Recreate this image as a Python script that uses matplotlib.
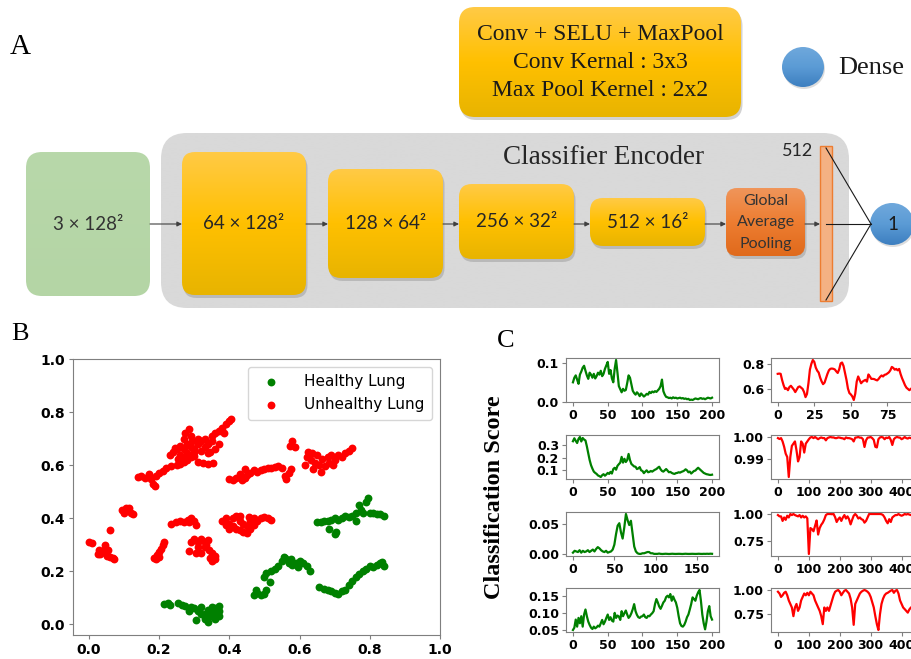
import matplotlib
matplotlib.use('Agg')
import matplotlib.pyplot as plt
import numpy as np
from matplotlib.patches import FancyBboxPatch, Ellipse, Rectangle
from matplotlib.colors import LinearSegmentedColormap

# ---------------- panel B : 2-D embedding ----------------
healthy_pts = [
    (0.215, 0.075), (0.225, 0.08), (0.232, 0.072), (0.255, 0.08), (0.265, 0.072), (0.275, 0.07),
    (0.285, 0.05), (0.29, 0.066), (0.30, 0.06), (0.31, 0.05), (0.305, 0.015), (0.32, 0.04),
    (0.32, 0.065), (0.33, 0.04), (0.33, 0.02), (0.34, 0.01), (0.345, 0.03), (0.35, 0.05),
    (0.35, 0.065), (0.355, 0.035), (0.36, 0.06), (0.36, 0.02), (0.365, 0.045), (0.37, 0.05),
    (0.37, 0.07), (0.372, 0.03), (0.34, 0.055),
    (0.47, 0.11), (0.475, 0.13), (0.48, 0.12), (0.49, 0.11), (0.50, 0.115), (0.505, 0.13),
    (0.50, 0.18), (0.505, 0.195), (0.515, 0.16), (0.52, 0.20), (0.53, 0.21), (0.54, 0.22),
    (0.55, 0.24), (0.555, 0.255), (0.56, 0.25), (0.57, 0.23), (0.575, 0.245), (0.58, 0.225),
    (0.59, 0.23), (0.595, 0.215), (0.60, 0.24), (0.61, 0.23), (0.62, 0.22), (0.63, 0.20),
    (0.65, 0.385), (0.66, 0.385), (0.67, 0.39), (0.68, 0.39), (0.69, 0.395), (0.70, 0.40),
    (0.71, 0.395), (0.72, 0.40), (0.73, 0.41), (0.74, 0.405), (0.75, 0.41), (0.76, 0.42),
    (0.76, 0.39), (0.77, 0.45), (0.775, 0.43), (0.78, 0.42), (0.79, 0.46), (0.795, 0.475),
    (0.80, 0.42), (0.81, 0.42), (0.82, 0.415), (0.83, 0.415), (0.84, 0.41), (0.685, 0.36),
    (0.70, 0.34), (0.705, 0.35),
    (0.655, 0.14), (0.67, 0.135), (0.68, 0.13), (0.69, 0.125), (0.70, 0.12), (0.71, 0.115),
    (0.72, 0.125), (0.73, 0.13), (0.74, 0.15), (0.75, 0.165), (0.76, 0.18), (0.77, 0.19),
    (0.78, 0.20), (0.79, 0.21), (0.80, 0.22), (0.81, 0.215), (0.82, 0.225), (0.83, 0.23),
    (0.84, 0.22), (0.835, 0.235),
]
unhealthy_pts = [
    (0.14, 0.555), (0.15, 0.56), (0.16, 0.552), (0.17, 0.565), (0.178, 0.548), (0.183, 0.53),
    (0.188, 0.52), (0.19, 0.56), (0.2, 0.57), (0.21, 0.578), (0.22, 0.588), (0.235, 0.595),
    (0.25, 0.6), (0.26, 0.605), (0.27, 0.612), (0.28, 0.62), (0.29, 0.63), (0.3, 0.635),
    (0.31, 0.612), (0.325, 0.61), (0.34, 0.605), (0.355, 0.61),
    (0.23, 0.64), (0.24, 0.65), (0.25, 0.66), (0.26, 0.672), (0.255, 0.625), (0.26, 0.64),
    (0.27, 0.66), (0.28, 0.68), (0.28, 0.645), (0.29, 0.67), (0.3, 0.66), (0.3, 0.65),
    (0.31, 0.68), (0.31, 0.70), (0.32, 0.69), (0.32, 0.655), (0.33, 0.67), (0.33, 0.70),
    (0.34, 0.68), (0.345, 0.65), (0.35, 0.69), (0.35, 0.71), (0.36, 0.66), (0.36, 0.72),
    (0.37, 0.68), (0.37, 0.73), (0.38, 0.74), (0.385, 0.72), (0.39, 0.755), (0.40, 0.765),
    (0.405, 0.775), (0.27, 0.70), (0.275, 0.72), (0.285, 0.735), (0.29, 0.71), (0.295, 0.69),
    (0.34, 0.645), (0.265, 0.63), (0.245, 0.665),
    (0.40, 0.548), (0.41, 0.545), (0.42, 0.55), (0.435, 0.543), (0.445, 0.55), (0.43, 0.565),
    (0.45, 0.562), (0.46, 0.57), (0.47, 0.58), (0.48, 0.575), (0.49, 0.582), (0.50, 0.586),
    (0.51, 0.59), (0.52, 0.588), (0.53, 0.592), (0.54, 0.596), (0.55, 0.59), (0.445, 0.585),
    (0.56, 0.56), (0.562, 0.548), (0.57, 0.57), (0.575, 0.585), (0.578, 0.69), (0.572, 0.672),
    (0.586, 0.668),
    (0.615, 0.60), (0.62, 0.63), (0.625, 0.65), (0.632, 0.62), (0.638, 0.585), (0.645, 0.61),
    (0.65, 0.64), (0.655, 0.60), (0.66, 0.575), (0.665, 0.625), (0.672, 0.595), (0.68, 0.63),
    (0.685, 0.61), (0.695, 0.60), (0.70, 0.62), (0.71, 0.638), (0.72, 0.63), (0.73, 0.645),
    (0.74, 0.655), (0.75, 0.663), (0.635, 0.645), (0.69, 0.64),
    (0.095, 0.43), (0.10, 0.42), (0.105, 0.44), (0.11, 0.43), (0.115, 0.44), (0.12, 0.42),
    (0.125, 0.415), (0.06, 0.357),
    (0.0, 0.31), (0.01, 0.305), (0.028, 0.28), (0.033, 0.265), (0.04, 0.272), (0.045, 0.285),
    (0.045, 0.30), (0.05, 0.268), (0.052, 0.258), (0.055, 0.28), (0.06, 0.255), (0.068, 0.25),
    (0.072, 0.248), (0.025, 0.265),
    (0.235, 0.38), (0.248, 0.385), (0.26, 0.39), (0.272, 0.385), (0.282, 0.392), (0.292, 0.40),
    (0.30, 0.39), (0.305, 0.375), (0.285, 0.385),
    (0.185, 0.25), (0.193, 0.262), (0.2, 0.272), (0.205, 0.285), (0.21, 0.30), (0.215, 0.312),
    (0.19, 0.245), (0.2, 0.255),
    (0.29, 0.31), (0.30, 0.32), (0.31, 0.31), (0.32, 0.32), (0.33, 0.312), (0.34, 0.318),
    (0.33, 0.29), (0.342, 0.28), (0.35, 0.27), (0.36, 0.258), (0.345, 0.25), (0.35, 0.24),
    (0.32, 0.27), (0.305, 0.27), (0.285, 0.275), (0.335, 0.30), (0.31, 0.29), (0.36, 0.245),
    (0.38, 0.39), (0.39, 0.40), (0.40, 0.38), (0.41, 0.37), (0.42, 0.36), (0.43, 0.355),
    (0.44, 0.35), (0.45, 0.345), (0.40, 0.36), (0.41, 0.40), (0.42, 0.41), (0.43, 0.39),
    (0.44, 0.38), (0.45, 0.37), (0.46, 0.39), (0.47, 0.40), (0.48, 0.39), (0.49, 0.40),
    (0.50, 0.405), (0.51, 0.40), (0.52, 0.395), (0.43, 0.41), (0.46, 0.36), (0.39, 0.375),
    (0.47, 0.375), (0.455, 0.405),
]

# ---------------- panel C : classification scores ----------------
green_step = 2
red_step = 5
score_h1 = [0.050, 0.062, 0.068, 0.057, 0.046, 0.070, 0.078, 0.088, 0.093, 0.080, 0.068, 0.059,
            0.075, 0.070, 0.062, 0.072, 0.060, 0.066, 0.075, 0.070, 0.080, 0.066, 0.072, 0.085,
            0.094, 0.103, 0.072, 0.082, 0.060, 0.050, 0.085, 0.108, 0.075, 0.040, 0.032, 0.024,
            0.033, 0.028, 0.030, 0.048, 0.068, 0.062, 0.045, 0.028, 0.022, 0.018, 0.024, 0.020,
            0.014, 0.021, 0.017, 0.013, 0.016, 0.020, 0.018, 0.025, 0.022, 0.026, 0.024, 0.027,
            0.025, 0.029, 0.033, 0.040, 0.057, 0.027, 0.018, 0.012, 0.011, 0.009, 0.010, 0.008,
            0.011, 0.009, 0.010, 0.008, 0.009, 0.010, 0.008, 0.009, 0.007, 0.008, 0.006, 0.007,
            0.004, 0.005, 0.004, 0.006, 0.008, 0.007, 0.006, 0.008, 0.009, 0.007, 0.008, 0.006,
            0.008, 0.010, 0.009, 0.008, 0.010]
score_h2 = [0.327, 0.350, 0.330, 0.313, 0.345, 0.360, 0.325, 0.352, 0.340, 0.333, 0.287, 0.233,
            0.180, 0.140, 0.113, 0.090, 0.080, 0.072, 0.060, 0.055, 0.048, 0.062, 0.070, 0.058,
            0.068, 0.080, 0.072, 0.088, 0.075, 0.110, 0.120, 0.105, 0.135, 0.148, 0.160, 0.205,
            0.160, 0.190, 0.165, 0.180, 0.228, 0.180, 0.150, 0.140, 0.130, 0.128, 0.110, 0.115,
            0.125, 0.100, 0.095, 0.078, 0.090, 0.100, 0.085, 0.088, 0.095, 0.090, 0.098, 0.105,
            0.110, 0.120, 0.128, 0.108, 0.095, 0.090, 0.100, 0.110, 0.098, 0.085, 0.088, 0.080,
            0.075, 0.072, 0.078, 0.080, 0.085, 0.082, 0.088, 0.092, 0.098, 0.108, 0.100, 0.085,
            0.090, 0.075, 0.085, 0.095, 0.098, 0.110, 0.120, 0.110, 0.100, 0.090, 0.080, 0.075,
            0.070, 0.068, 0.065, 0.064, 0.066]
score_h3 = [0.003, 0.006, 0.005, 0.004, 0.007, 0.003, 0.006, 0.004, 0.005, 0.007, 0.004, 0.006,
            0.008, 0.005, 0.009, 0.012, 0.010, 0.007, 0.005, 0.004, 0.006, 0.003, 0.004, 0.005,
            0.008, 0.016, 0.033, 0.047, 0.051, 0.036, 0.026, 0.044, 0.066, 0.056, 0.048, 0.055,
            0.034, 0.013, 0.005, 0.002, 0.001, 0.001, 0.002, 0.002, 0.003, 0.004, 0.004, 0.002,
            0.002, 0.001, 0.001, 0.001, 0.0015, 0.001, 0.0008, 0.001, 0.0012, 0.001, 0.0008,
            0.001, 0.0012, 0.001, 0.0009, 0.001, 0.0011, 0.001, 0.0008, 0.001, 0.0012, 0.001,
            0.0009, 0.001, 0.0011, 0.001, 0.0009, 0.001, 0.0012, 0.001, 0.0009, 0.0011, 0.001,
            0.0012, 0.001, 0.0013, 0.0011]
score_h4 = [0.050, 0.057, 0.081, 0.060, 0.086, 0.070, 0.091, 0.060, 0.096, 0.111, 0.091, 0.075,
            0.065, 0.057, 0.053, 0.060, 0.055, 0.058, 0.063, 0.060, 0.070, 0.080, 0.067, 0.075,
            0.086, 0.096, 0.080, 0.088, 0.078, 0.075, 0.101, 0.086, 0.093, 0.090, 0.080, 0.106,
            0.091, 0.100, 0.108, 0.096, 0.086, 0.091, 0.100, 0.112, 0.127, 0.106, 0.095, 0.088,
            0.086, 0.090, 0.091, 0.096, 0.088, 0.086, 0.092, 0.091, 0.096, 0.100, 0.106, 0.127,
            0.142, 0.132, 0.120, 0.113, 0.122, 0.132, 0.137, 0.148, 0.152, 0.147, 0.157, 0.137,
            0.150, 0.140, 0.132, 0.116, 0.091, 0.070, 0.062, 0.060, 0.065, 0.075, 0.088, 0.096,
            0.111, 0.127, 0.147, 0.142, 0.137, 0.152, 0.162, 0.169, 0.137, 0.096, 0.070, 0.052,
            0.075, 0.106, 0.121, 0.091, 0.081]
score_u1 = [0.720, 0.722, 0.720, 0.670, 0.630, 0.600, 0.605, 0.590, 0.615, 0.625, 0.610, 0.595,
            0.575, 0.595, 0.615, 0.620, 0.610, 0.600, 0.575, 0.535, 0.560, 0.645, 0.753, 0.800,
            0.830, 0.815, 0.770, 0.745, 0.730, 0.690, 0.660, 0.638, 0.650, 0.685, 0.720, 0.748,
            0.760, 0.762, 0.760, 0.755, 0.740, 0.727, 0.755, 0.803, 0.810, 0.782, 0.727, 0.672,
            0.603, 0.567, 0.556, 0.540, 0.512, 0.562, 0.658, 0.699, 0.672, 0.645, 0.658, 0.666,
            0.672, 0.658, 0.715, 0.699, 0.680, 0.680, 0.678, 0.672, 0.668, 0.680, 0.696, 0.707,
            0.699, 0.712, 0.715, 0.723, 0.732, 0.748, 0.775, 0.767, 0.753, 0.759, 0.748, 0.759,
            0.718, 0.685, 0.658, 0.630, 0.610, 0.600, 0.590, 0.600, 0.610]
score_u2 = [0.9995, 0.9991, 0.9995, 0.998, 0.9956, 0.9925, 0.991, 0.982, 0.991, 0.996, 0.997,
            0.998, 0.994, 0.989, 0.991, 0.998, 0.997, 0.993, 0.997, 0.998, 0.999, 0.9998, 1.0,
            0.9995, 1.0, 0.9995, 0.999, 0.9995, 0.9998, 0.9995, 0.9995, 0.9985, 0.9995, 0.9998,
            1.0, 0.9998, 0.9998, 0.9995, 0.9995, 0.9998, 0.9997, 0.9995, 0.9994, 0.999, 0.9998,
            0.9995, 0.9995, 0.9993, 0.999, 0.998, 0.9997, 0.9998, 1.0, 0.9997, 0.9997, 0.999,
            0.9955, 0.9985, 0.9997, 0.9998, 1.0, 0.9995, 0.9987, 0.9956, 0.9953, 0.999, 0.9998,
            1.0, 0.9998, 0.999, 0.9997, 0.9995, 1.0, 0.9987, 0.9964, 0.999, 0.9997, 1.0, 0.9998,
            0.9997, 0.999, 0.9994, 1.0, 0.9995, 0.9993, 0.9997, 0.9995, 0.9992, 0.9996, 0.9994,
            0.9995]
score_u3 = [0.990, 0.978, 0.978, 0.936, 0.968, 0.946, 0.984, 0.968, 1.0, 0.990, 1.0, 0.990,
            0.984, 0.978, 0.990, 0.968, 0.984, 0.968, 0.978, 0.960, 0.630, 0.870, 0.860, 0.840,
            0.890, 0.940, 0.810, 0.870, 0.900, 0.920, 0.950, 0.990, 1.0, 1.0, 1.0, 0.998, 1.0,
            0.970, 0.926, 0.952, 0.968, 0.936, 0.968, 0.990, 0.958, 0.978, 0.952, 0.904, 0.946,
            0.984, 1.0, 0.984, 0.958, 0.968, 0.952, 0.946, 0.920, 0.936, 0.968, 1.0, 1.0, 1.0,
            1.0, 1.0, 1.0, 1.0, 1.0, 0.998, 0.990, 0.968, 0.936, 0.914, 0.952, 0.926, 0.968,
            0.980, 0.990, 0.990, 1.0, 0.990, 0.984, 0.990, 1.0, 0.995, 1.0, 0.995, 0.990, 0.995,
            0.990, 0.995, 0.990]
score_u4 = [0.982, 0.964, 0.929, 0.946, 0.971, 0.982, 0.946, 0.893, 0.857, 0.821, 0.732, 0.821,
            0.857, 0.786, 0.821, 0.893, 0.929, 0.964, 0.946, 0.971, 0.946, 0.982, 0.964, 0.946,
            0.893, 0.857, 0.821, 0.786, 0.732, 0.650, 0.821, 0.786, 0.821, 0.786, 0.839, 0.893,
            0.946, 0.982, 0.993, 1.0, 0.982, 0.946, 0.971, 0.993, 1.0, 0.982, 0.964, 0.911,
            0.821, 0.643, 0.857, 0.893, 0.929, 0.964, 0.982, 0.993, 1.0, 0.993, 0.982, 0.964,
            0.929, 0.875, 0.821, 0.732, 0.650, 0.590, 0.750, 0.857, 0.911, 0.946, 0.964, 0.971,
            0.982, 0.993, 1.0, 0.971, 0.993, 1.0, 0.964, 0.893, 0.857, 0.821, 0.804, 0.786,
            0.768, 0.800, 0.820, 0.830, 0.840, 0.850, 0.860]

h_xticks = [[0, 50, 100, 150, 200], [0, 50, 100, 150, 200], [0, 50, 100, 150], [0, 50, 100, 150, 200]]
h_yticks = [[0.0, 0.1], [0.1, 0.2, 0.3], [0.0, 0.05], [0.05, 0.10, 0.15]]
h_ylabels = [['0.0', '0.1'], ['0.1', '0.2', '0.3'], ['0.00', '0.05'], ['0.05', '0.10', '0.15']]
u_xticks = [[0, 25, 50, 75, 100], [0, 100, 200, 300, 400], [0, 100, 200, 300, 400], [0, 100, 200, 300, 400]]
u_yticks = [[0.6, 0.8], [0.99, 1.00], [0.75, 1.00], [0.75, 1.00]]
u_ylabels = [['0.6', '0.8'], ['0.99', '1.00'], ['0.75', '1.00'], ['0.75', '1.00']]

W, H = 912, 659
SERIF = 'Liberation Serif'
SANS = 'Lato'
GOLD = ['#ffca45', '#ffc000', '#e8b400']

fig = plt.figure(figsize=(W / 100, H / 100), dpi=100)


def px_axes(l, t, r, b):
    return fig.add_axes([l / W, 1 - b / H, (r - l) / W, (b - t) / H])


# ---------------- panel A : network diagram (pixel coordinates) ----------------
ax0 = fig.add_axes([0, 0, 1, 1])
ax0.axis('off')


def rbox(x0, y0, x1, y1, colors, rad=10, shadow=True, z=3):
    style = "round,pad=0,rounding_size=%g" % rad
    if shadow:
        ax0.add_patch(FancyBboxPatch((x0 + 1.5, y0 + 3), x1 - x0, y1 - y0, boxstyle=style,
                                     fc='#808080', ec='none', alpha=0.35, zorder=z - 0.5))
    p = FancyBboxPatch((x0, y0), x1 - x0, y1 - y0, boxstyle=style, fc='none', ec='none', zorder=z)
    ax0.add_patch(p)
    cmap = LinearSegmentedColormap.from_list('g', colors)
    im = ax0.imshow(np.linspace(0, 1, 64)[:, None], cmap=cmap, extent=(x0, x1, y1, y0),
                    aspect='auto', zorder=z, interpolation='bilinear')
    im.set_clip_path(p)


def circle(cx, cy, w, h, z=4):
    ax0.add_patch(Ellipse((cx + 1, cy + 2), w, h, fc='#909090', ec='none', alpha=0.3, zorder=z - 0.5))
    e = Ellipse((cx, cy), w, h, fc='none', ec='none', zorder=z)
    ax0.add_patch(e)
    cmap = LinearSegmentedColormap.from_list('b', ['#6fa8dc', '#5b9bd5', '#3d7fc0'])
    im = ax0.imshow(np.linspace(0, 1, 64)[:, None], cmap=cmap,
                    extent=(cx - w / 2, cx + w / 2, cy + h / 2, cy - h / 2),
                    aspect='auto', zorder=z, interpolation='bilinear')
    im.set_clip_path(e)


# top legend box
rbox(459, 7, 741, 117, GOLD, rad=16)
for yy, txt in zip([34, 63, 91], ['Conv + SELU + MaxPool', 'Conv Kernal : 3x3', 'Max Pool Kernel : 2x2']):
    ax0.text(600, yy, txt, family=SERIF, fontsize=17, ha='center', va='center', color='#1a1a1a', zorder=6)
circle(803, 67, 42, 40)
ax0.text(838, 68, 'Dense', family=SERIF, fontsize=19, ha='left', va='center', color='#1a1a1a')

# encoder background
rbox(161, 133, 849, 308, ['#d9d9d9', '#d9d9d9'], rad=26, shadow=False, z=1)
ax0.text(604, 157, 'Classifier Encoder', family=SERIF, fontsize=19.5, ha='center', va='center', color='#262626', zorder=6)

# input and conv blocks
rbox(26, 152, 150, 296, ['#b8d8aa', '#b4d5a5'], rad=16, shadow=False)
ax0.text(88, 224, '3 × 128²', family=SANS, fontsize=13.5, ha='center', va='center', color='#333333', zorder=6)
blocks = [(182, 152, 306, 295, '64 × 128²'), (328, 169, 443, 278, '128 × 64²'),
          (459, 184, 574, 259, '256 × 32²'), (590, 198, 705, 246, '512 × 16²')]
for x0, y0, x1, y1, lab in blocks:
    rbox(x0, y0, x1, y1, GOLD, rad=13)
    ax0.text((x0 + x1) / 2, (y0 + y1) / 2, lab, family=SANS, fontsize=13.5, ha='center', va='center',
             color='#262626', zorder=6)
rbox(726, 188, 805, 256, ['#f0955a', '#ed7d31', '#e06a1c'], rad=11)
for yy, txt in zip([201, 222, 244], ['Global', 'Average', 'Pooling']):
    ax0.text(766, yy, txt, family=SANS, fontsize=11.5, ha='center', va='center', color='#333333', zorder=6)

# arrows between blocks
for xa, xb in [(150, 182), (306, 328), (443, 459), (574, 590), (705, 726), (805, 820)]:
    ax0.annotate('', xy=(xb, 224), xytext=(xa, 224), zorder=5,
                 arrowprops=dict(arrowstyle='-|>', color='#404040', lw=0.8, mutation_scale=7,
                                 shrinkA=0, shrinkB=0))

# dense vector and output neuron
ax0.add_patch(Rectangle((820, 146), 12, 155, fc='#f4b183', ec='#ed7d31', lw=1, zorder=4))
ax0.text(798, 151, '512', family=SANS, fontsize=13, ha='center', va='center', color='#262626', zorder=6)
for ys in [148, 224, 300]:
    ax0.plot([826, 871], [ys, 224], color='#1a1a1a', lw=0.8, zorder=5)
circle(892, 224, 44, 42)
ax0.text(893, 225, '1', family=SANS, fontsize=13.5, ha='center', va='center', color='#1a1a1a', zorder=6)

# panel letters
ax0.text(10, 47, 'A', family=SERIF, fontsize=21, ha='left', va='center', color='black')
ax0.text(11, 334, 'B', family=SERIF, fontsize=19, ha='left', va='center', color='black')
ax0.text(497, 341, 'C', family=SERIF, fontsize=19, ha='left', va='center', color='black')
ax0.set_xlim(0, W)
ax0.set_ylim(H, 0)


def style_axes(ax, size):
    for s in ax.spines.values():
        s.set_color('#7f7f7f')
    ax.tick_params(labelsize=size, length=3, pad=2, color='#7f7f7f')
    for lbl in ax.get_xticklabels() + ax.get_yticklabels():
        lbl.set_fontweight('bold')


# ---------------- panel B ----------------
axB = px_axes(73, 359, 440, 635)
hp = np.array(healthy_pts)
up = np.array(unhealthy_pts)
axB.scatter(hp[:, 0], hp[:, 1], s=32, c='green', linewidths=0, label='Healthy Lung')
axB.scatter(up[:, 0], up[:, 1], s=32, c='red', linewidths=0, label='Unhealthy Lung')
axB.set_xlim(-0.045, 1.0)
axB.set_ylim(-0.04, 1.0)
axB.set_xticks([0.0, 0.2, 0.4, 0.6, 0.8, 1.0])
axB.set_yticks([0.0, 0.2, 0.4, 0.6, 0.8, 1.0])
style_axes(axB, 10)
axB.tick_params(pad=3)
axB.legend(loc='upper right', fontsize=11, scatterpoints=1, handletextpad=1.2, borderpad=0.5)

# ---------------- panel C ----------------
rows = [(358, 402), (435, 479), (512, 556), (588, 632)]
healthy_scores = [score_h1, score_h2, score_h3, score_h4]
unhealthy_scores = [score_u1, score_u2, score_u3, score_u4]
for i, (t, b) in enumerate(rows):
    ax = px_axes(566, t, 719, b)
    y = healthy_scores[i]
    ax.plot(np.arange(len(y)) * green_step, y, color='green', lw=1.6)
    ax.set_xticks(h_xticks[i])
    ax.set_yticks(h_yticks[i], h_ylabels[i])
    style_axes(ax, 9)

    ax = px_axes(771, t, 924, b)
    y = unhealthy_scores[i]
    step = 1 if i == 0 else red_step
    ax.plot(np.arange(len(y)) * step, y, color='red', lw=1.6)
    ax.set_xticks(u_xticks[i])
    ax.set_yticks(u_yticks[i], u_ylabels[i])
    style_axes(ax, 9)

fig.text(495 / W, 1 - 497 / H, 'Classification Score', family=SERIF, fontsize=17.5, fontweight='bold',
         rotation=90, ha='center', va='center')

fig.savefig('out.png', dpi=100)
